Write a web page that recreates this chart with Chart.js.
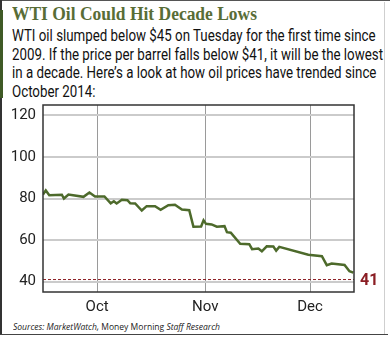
<!DOCTYPE html>
<html>
<head>
<meta charset="utf-8">
<script src="https://cdn.jsdelivr.net/npm/chart.js@4.4.0/dist/chart.umd.min.js"></script>
<style>
  html, body { margin: 0; padding: 0; background: #fff; }
  #frame {
    position: relative; width: 390px; height: 339px; overflow: hidden;
  }
  .edge { position: absolute; }
  .fit { position: absolute; white-space: nowrap; transform-origin: 0 0; }
  #title {
    left: 12px; top: 4px;
    font: bold 18.5px "Liberation Serif", "DejaVu Serif", serif; color: #586d36;
  }
  #intro {
    left: 12px; top: 27px;
    font: 16px Roboto, "Noto Sans", sans-serif; line-height: 18.5px; color: #111;
  }
  #chartBox { position: absolute; left: 0; top: 100px; width: 390px; height: 220px; }
  #source {
    left: 13px; top: 320px;
    font: italic 9.5px "Open Sans", "Noto Sans", sans-serif; color: #222;
  }
  #source span { font-style: normal; }
</style>
</head>
<body>
<div id="frame">
  <div class="edge" style="left:0;top:0;width:390px;height:1px;background:#555"></div>
  <div class="edge" style="left:0;top:0;width:2px;height:335px;background:#333"></div>
  <div class="edge" style="left:0;top:10px;width:3px;height:88px;background:#3f5a26"></div>
  <div class="edge" style="left:384px;top:2px;width:1px;height:333px;background:#cfcfcf"></div>
  <div class="edge" style="left:0;top:334px;width:388px;height:1px;background:#444"></div>
  <div id="title" class="fit" data-w="245">WTI Oil Could Hit Decade Lows</div>
  <div id="intro" class="fit" data-w="371">WTI oil slumped below $45 on Tuesday for the first time since<br>2009. If the price per barrel falls below $41, it will be the lowest<br>in a decade. Here’s a look at how oil prices have trended since<br>October 2014:</div>
  <div id="chartBox"><canvas id="oilChart"></canvas></div>
  <div id="source" class="fit" data-w="207">Sources: MarketWatch, <span>Money Morning</span> Staff Research</div>
</div>
<script>
// days counted from Sep 1, 2014
const days = [14.5, 15.3, 16.3, 19.9, 20.5, 21.8, 26.1, 27.8, 29.4, 32.1, 33.9, 34.8, 35.6, 37.1, 38.7, 39.5, 40.9,
  42.8, 44.2, 46.6, 48.2, 50.4, 52.3, 54.3, 56.4, 57.6, 59.8, 60.5, 61.2, 62.8, 64.3, 66.5, 67.2, 68.3,
  71.0, 73.6, 74.4, 76.2, 77.2, 78.6, 80.5, 81.3, 82.2, 90.5, 94.4, 95.8, 97.2, 100.9, 102.3, 103.4];
const prices = [81.9, 83.9, 81.6, 81.8, 80.0, 81.9, 80.8, 82.9, 81.0, 81.0, 77.7, 78.7, 77.6, 79.4, 79.2, 77.7, 77.6,
  74.2, 76.3, 76.3, 74.6, 76.8, 77.0, 74.7, 74.4, 66.4, 66.5, 69.5, 67.8, 67.5, 66.4, 66.7, 63.8, 63.5,
  58.2, 58.0, 55.6, 55.9, 54.6, 57.0, 56.9, 54.9, 56.7, 52.9, 52.2, 47.9, 48.7, 48.0, 45.0, 44.3];
const monthDays = [30, 61, 91];
const monthLabels = ['Oct', 'Nov', 'Dec'];
const yTicks = [40, 60, 80, 100, 120];
const decadeLow = 41;

const xMin = 14.5, xMax = 103.6;

// squeeze text blocks horizontally to the widths in the picture
document.querySelectorAll('.fit').forEach(el => {
  const w = el.getBoundingClientRect().width;
  el.style.transform = 'scaleX(' + (Number(el.dataset.w) / w) + ')';
});

const frameBorder = {
  id: 'frameBorder',
  afterDraw(chart) {
    const a = chart.chartArea, c = chart.ctx;
    c.save();
    c.strokeStyle = '#333';
    c.lineWidth = 1.5;
    c.strokeRect(a.left, a.top, a.right - a.left, a.bottom - a.top);
    const y = chart.scales.y.getPixelForValue(decadeLow);
    c.fillStyle = '#8b1e24';
    c.font = 'bold 16px Roboto, sans-serif';
    c.textBaseline = 'middle';
    c.fillText(String(decadeLow), a.right + 6, y + 1);
    c.restore();
  }
};

const ctx = document.getElementById('oilChart').getContext('2d');
const oilChart = new Chart(ctx, {
  type: 'line',
  data: {
    datasets: [{
      label: 'WTI',
      data: days.map((d, i) => ({ x: d, y: prices[i] })),
      borderColor: '#4d6a2b',
      borderWidth: 2.5,
      pointRadius: 0,
      tension: 0
    }, {
      label: 'Decade low',
      data: [{ x: xMin, y: decadeLow }, { x: xMax, y: decadeLow }],
      borderColor: '#8b1e24',
      borderWidth: 1,
      borderDash: [3, 2],
      pointRadius: 0
    }]
  },
  options: {
    responsive: true,
    maintainAspectRatio: false,
    animation: false,
    layout: { padding: { top: 5, right: 36, left: 0, bottom: 0 } },
    plugins: { legend: { display: false }, tooltip: { enabled: false } },
    scales: {
      x: {
        type: 'linear',
        min: xMin,
        max: xMax,
        afterBuildTicks: axis => { axis.ticks = monthDays.map(v => ({ value: v })); },
        afterFit: axis => { axis.height = 28; axis.paddingLeft = 0; axis.paddingRight = 0; },
        ticks: {
          callback: v => monthLabels[monthDays.indexOf(v)],
          font: { family: 'Roboto', size: 15 },
          color: '#222',
          padding: 6,
          maxRotation: 0
        },
        grid: { color: '#9a9a9a', lineWidth: 1, drawTicks: false },
        border: { display: false }
      },
      y: {
        min: 35,
        max: 125,
        afterBuildTicks: axis => { axis.ticks = yTicks.map(v => ({ value: v })); },
        afterFit: axis => { axis.width = 43; axis.paddingTop = 0; axis.paddingBottom = 0; },
        ticks: {
          font: { family: 'Roboto', size: 15 },
          color: '#222',
          padding: 7
        },
        grid: { color: '#cbcbcb', lineWidth: 2, drawTicks: false },
        border: { display: false }
      }
    }
  },
  plugins: [frameBorder]
});
</script>
</body>
</html>
